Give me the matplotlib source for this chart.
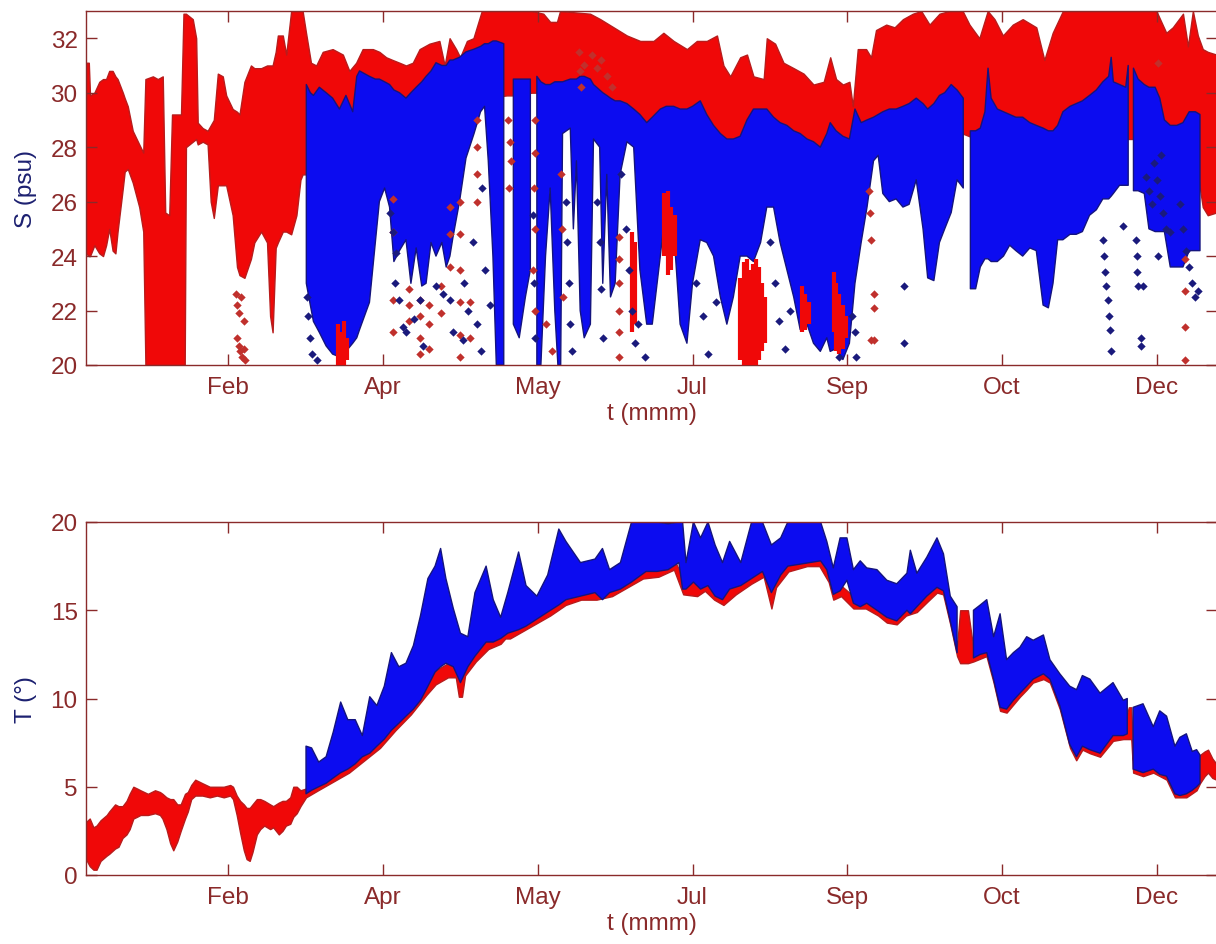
import numpy as np
import matplotlib.pyplot as plt

plt.rcParams['font.family'] = ['Liberation Sans', 'DejaVu Sans']

nan = np.nan

# x axis is day of year; month labels sit on a 50-day tick grid
month_ticks = [46, 96, 146, 196, 246, 296, 346]
month_labels = ['Feb', 'Apr', 'May', 'Jul', 'Sep', 'Oct', 'Dec']

# salinity, sensor A (red): day, band low, band high
sal_red = [
    (0.0, 24.1, 31.1), (0.9, 24.0, 31.1), (1.3, 24.0, 29.9), (2.7, 24.4, 30.0),
    (4.3, 24.1, 30.4), (5.5, 24.0, 30.5), (6.5, 24.4, 30.5), (7.5, 25.0, 30.8),
    (8.6, 24.2, 30.8), (9.5, 24.1, 30.6), (10.2, 24.9, 30.5), (11.9, 26.5, 30.0),
    (12.5, 27.1, 29.8), (13.5, 27.2, 29.5), (15.1, 26.7, 28.6), (17.2, 25.8, 28.1),
    (18.5, 24.9, 27.8), (19.2, 20.0, 30.5), (21.6, 20.0, 30.6), (23.2, 20.0, 30.5),
    (24.8, 20.0, 30.6), (25.6, 20.0, 25.6), (26.9, 20.0, 25.5), (27.8, 20.0, 29.2),
    (30.7, 20.0, 29.2), (31.5, 20.0, 32.9), (31.9, 20.0, 32.9), (32.3, 28.0, 32.9),
    (34.5, 28.2, 32.7), (35.6, 28.3, 32.0), (36.1, 28.1, 28.9), (37.7, 28.2, 28.7),
    (39.3, 28.1, 28.6), (40.3, 26.0, 28.8), (41.3, 25.4, 29.0), (42.6, 26.6, 30.7),
    (44.2, 26.6, 30.6), (45.3, 26.6, 29.9), (47.4, 25.5, 29.4), (48.8, 23.6, 29.3),
    (49.6, 23.3, 29.2), (51.2, 23.2, 30.4), (53.3, 23.9, 31.0), (54.4, 24.5, 30.9),
    (56.6, 24.9, 30.9), (58.5, 24.5, 31.0), (59.5, 21.8, 31.0), (60.3, 21.2, 31.0),
    (61.3, 24.3, 31.5), (62.0, 24.5, 32.1), (63.6, 24.9, 32.1), (64.7, 24.9, 31.4),
    (66.3, 24.8, 33.0), (68.0, 25.5, 33.0), (69.3, 26.8, 33.0), (70.0, 27.0, 33.0),
    (71.1, 27.0, 32.2), (72.7, 29.0, 31.1), (74.4, 29.0, 31.0), (76.5, 29.0, 31.5),
    (79.7, 29.0, 31.6), (83.0, 29.0, 31.4), (85.1, 29.0, 30.8), (87.3, 29.0, 31.1),
    (89.4, 29.5, 31.6), (92.7, 29.5, 31.6), (94.8, 29.5, 31.5), (97.0, 29.5, 31.3),
    (99.1, 29.5, 31.2), (101.3, 29.5, 31.1), (103.4, 29.5, 31.0), (105.6, 29.5, 31.1),
    (107.8, 29.8, 31.6), (111.0, 29.8, 31.8), (114.2, 29.8, 31.9), (115.9, 29.8, 31.0),
    (117.5, 29.8, 32.0), (119.6, 29.8, 31.6), (120.9, 29.8, 31.3), (123.1, 29.8, 31.9),
    (125.2, 29.8, 32.0), (127.9, 29.8, 33.0), (136.0, 29.9, 33.0), (138.0, 29.9, 33.0),
    (144.0, 30.0, 33.0), (147.8, 30.0, 32.9), (150.0, 30.0, 32.6), (152.2, 30.0, 32.6),
    (153.2, 30.0, 33.0), (162.9, 29.8, 32.9), (166.2, 29.5, 32.7), (170.5, 29.3, 32.4),
    (174.8, 29.0, 32.1), (179.1, 28.7, 31.9), (183.4, 28.7, 31.9), (186.6, 28.7, 32.2),
    (189.9, 28.7, 31.9), (194.2, 28.7, 31.6), (197.4, 28.7, 31.9), (200.6, 28.5, 31.9),
    (203.9, 28.3, 32.1), (206.0, 28.1, 31.0), (208.2, 28.1, 30.6), (211.4, 28.2, 31.3),
    (213.6, 28.5, 31.4), (215.7, 28.5, 30.6), (219.0, 28.5, 30.5), (220.0, 28.5, 32.0),
    (222.7, 28.5, 31.8), (225.4, 28.4, 31.1), (228.7, 28.3, 30.9), (231.9, 28.1, 30.7),
    (235.1, 27.9, 30.3), (238.4, 27.9, 30.4), (240.5, 28.2, 31.3), (242.4, 28.2, 30.5),
    (244.6, 28.1, 30.3), (246.7, 28.1, 30.4), (247.8, 28.2, 29.5), (249.4, 28.2, 31.6),
    (252.1, 28.4, 31.6), (253.7, 28.4, 31.3), (255.3, 28.5, 32.3), (258.6, 28.6, 32.5),
    (261.3, 28.6, 32.4), (264.0, 28.8, 32.7), (267.2, 28.8, 32.9), (269.9, 28.8, 33.0),
    (272.6, 28.8, 32.5), (275.8, 28.8, 32.9), (279.0, 28.8, 33.0), (283.3, 28.5, 33.0),
    (285.5, 28.4, 32.5), (288.7, 28.4, 32.0), (291.4, 28.4, 33.0), (293.6, 28.5, 32.7),
    (296.3, 28.5, 32.1), (299.5, 28.5, 32.5), (302.7, 28.4, 32.7), (307.1, 28.3, 32.4),
    (309.7, 28.3, 31.2), (312.4, 28.3, 32.2), (315.7, 28.3, 33.0), (345.9, 28.3, 33.0),
    (349.1, 28.3, 32.2), (351.2, 28.3, 32.4), (354.5, 28.5, 32.9), (356.1, 28.5, 31.7),
    (357.7, 28.5, 33.0), (359.3, 27.0, 32.1), (360.9, 25.8, 31.6), (362.5, 25.5, 31.5),
    (365.3, 25.6, 31.4),
]

# salinity, sensor B (blue): day, band low, band high (nan = no data)
sal_blue = [
    (71.2, 23.0, 30.3), (72.5, 22.2, 30.0), (73.5, 21.6, 29.9), (75.4, 21.2, 30.2),
    (77.6, 20.7, 30.0), (79.7, 20.4, 29.8), (81.9, 20.3, 29.4), (84.0, 20.5, 29.9),
    (86.2, 20.8, 29.3), (87.5, 21.0, 30.6), (88.4, 21.3, 30.8), (90.0, 21.8, 30.7),
    (91.6, 22.3, 30.6), (93.5, 24.5, 30.5), (94.8, 26.0, 30.5), (96.5, 26.5, 30.4),
    (98.1, 25.8, 30.3), (99.5, 23.8, 30.1), (101.3, 24.2, 30.0), (103.4, 24.6, 29.8),
    (105.0, 23.0, 30.0), (106.7, 24.3, 30.2), (108.5, 22.9, 30.4), (109.9, 23.0, 30.6),
    (111.5, 24.5, 30.8), (113.1, 24.0, 31.1), (115.0, 24.5, 31.0), (116.4, 23.6, 31.0),
    (117.6, 24.0, 31.2), (118.6, 24.7, 31.2), (120.7, 26.0, 31.3), (122.8, 27.6, 31.5),
    (125.4, 28.5, 31.6), (127.5, 29.3, 31.7), (128.8, 29.5, 31.8), (130.0, 27.5, 31.8),
    (131.5, 24.0, 31.9), (132.6, 20.0, 31.9), (135.0, 20.0, 31.8), (135.5, nan, nan),
    (138.1, 21.5, 30.5), (140.0, 21.0, 30.5), (142.0, 22.5, 30.5), (143.6, 23.5, 30.5),
    (144.2, nan, nan), (145.7, 20.0, 30.6), (147.0, 20.0, 30.4), (148.5, 24.0, 30.3),
    (150.0, 26.5, 30.3), (151.5, 22.0, 30.4), (152.5, 20.0, 30.4), (153.4, 20.0, 30.4),
    (154.0, 28.5, 30.4), (156.5, 28.7, 30.5), (157.5, 25.0, 30.5), (158.5, 27.5, 30.5),
    (159.7, 22.0, 30.6), (161.0, 21.0, 30.6), (163.0, 21.5, 30.5), (164.0, 28.3, 30.3),
    (166.0, 28.0, 30.1), (167.0, 23.0, 30.0), (168.3, 27.0, 29.9), (169.5, 22.5, 29.8),
    (171.0, 23.0, 29.7), (172.6, 27.0, 29.7), (174.8, 28.2, 29.6), (177.0, 28.0, 29.4),
    (179.0, 23.5, 29.2), (181.2, 21.5, 28.9), (183.0, 21.5, 29.1), (185.6, 24.0, 29.4),
    (187.5, 26.0, 29.5), (189.9, 25.0, 29.5), (192.0, 21.5, 29.4), (194.2, 20.8, 29.4),
    (196.0, 23.0, 29.5), (198.5, 24.6, 29.7), (200.6, 24.5, 29.2), (202.8, 24.0, 28.8),
    (205.0, 22.5, 28.5), (207.1, 21.5, 28.3), (209.2, 22.5, 28.3), (211.4, 24.0, 28.4),
    (213.6, 24.0, 29.0), (215.7, 23.8, 29.4), (218.0, 24.5, 29.4), (220.0, 25.8, 29.4),
    (222.2, 25.8, 29.1), (224.3, 24.5, 28.9), (226.5, 23.5, 28.8), (228.7, 22.5, 28.6),
    (230.8, 21.3, 28.5), (233.0, 21.5, 28.3), (235.1, 20.8, 28.2), (237.3, 20.5, 28.0),
    (239.4, 21.0, 28.5), (240.5, 20.5, 28.9), (242.4, 20.6, 28.6), (244.6, 20.2, 28.4),
    (246.7, 20.8, 28.3), (248.5, 23.0, 29.4), (250.5, 24.5, 28.9), (252.4, 25.8, 29.0),
    (254.5, 27.5, 29.1), (256.0, 27.7, 29.2), (257.5, 26.3, 29.3), (259.6, 26.0, 29.4),
    (261.8, 26.1, 29.4), (264.0, 25.8, 29.5), (266.0, 25.9, 29.6), (268.3, 26.8, 29.8),
    (270.5, 25.0, 29.6), (272.0, 23.2, 29.4), (274.0, 23.1, 29.6), (275.8, 24.5, 29.9),
    (277.5, 25.0, 30.0), (279.6, 25.6, 30.3), (281.5, 26.8, 30.1), (283.5, 26.5, 29.8),
    (284.2, nan, nan), (285.8, 22.8, 28.6), (287.5, 22.8, 28.6), (289.0, 23.6, 28.7),
    (290.5, 23.9, 29.3), (291.5, 23.9, 30.9), (292.5, 23.8, 29.8), (294.5, 23.8, 29.4),
    (296.5, 24.0, 29.3), (298.5, 24.4, 29.2), (300.5, 24.2, 29.1), (302.7, 24.0, 29.1),
    (305.0, 24.3, 28.9), (307.1, 24.2, 28.8), (309.3, 22.2, 28.7), (311.0, 22.1, 28.6),
    (312.5, 23.0, 28.6), (314.0, 24.6, 28.8), (315.7, 24.6, 29.3), (318.0, 24.8, 29.5),
    (320.0, 24.8, 29.6), (322.0, 24.9, 29.7), (324.3, 25.5, 29.9), (326.5, 25.7, 30.1),
    (328.6, 26.1, 30.4), (330.5, 26.1, 30.6), (331.3, 26.2, 31.3), (332.0, 26.3, 30.4),
    (334.0, 26.6, 30.3), (336.0, 26.6, 30.2), (336.8, 26.6, 31.0), (337.3, nan, nan),
    (338.5, 26.4, 30.9), (340.0, 26.4, 30.5), (342.0, 26.3, 30.3), (343.5, 25.0, 30.2),
    (345.5, 24.9, 30.2), (347.0, 24.9, 29.8), (348.5, 24.9, 29.0), (350.4, 23.6, 28.8),
    (352.5, 23.6, 28.8), (354.5, 23.6, 28.9), (356.5, 24.2, 29.3), (358.5, 24.2, 29.3),
    (360.0, 24.2, 29.2),
]

# low-salinity excursions of sensor A that show through the blue band
sal_red_streaks = [
    (81.5, 20.0, 21.5), (82.5, 20.0, 21.2), (83.5, 20.0, 21.6), (84.5, 20.2, 21.0),
    (176.5, 21.2, 24.9), (177.3, 21.5, 24.5),
    (186.8, 24.0, 26.3), (188.0, 23.3, 26.4), (189.2, 23.5, 25.8), (190.5, 24.0, 25.5),
    (211.5, 20.2, 23.2), (212.5, 20.0, 23.8), (213.5, 20.0, 23.9), (214.5, 20.0, 23.5),
    (215.5, 20.0, 23.7), (216.5, 20.0, 23.9), (217.5, 20.2, 23.6), (218.5, 20.5, 23.0),
    (219.5, 20.8, 22.5),
    (231.5, 21.2, 22.9), (232.5, 21.3, 22.6), (233.5, 21.5, 22.3), (241.6, 21.2, 23.4),
    (242.5, 20.5, 23.0), (243.5, 20.4, 22.6), (244.5, 20.6, 22.2), (245.5, 21.0, 21.8),
]

# isolated salinity samples, sensor A
sal_red_dots = [
    (48.6, 22.6), (48.9, 22.2), (49.3, 21.9), (50.2, 22.5), (50.9, 21.6), (48.8, 21.0),
    (49.3, 20.7), (49.8, 20.5), (50.3, 20.3), (51.0, 20.6), (51.5, 20.2),
    (99.3, 26.1), (99.3, 24.9), (99.3, 22.4), (99.3, 21.2),
    (104.5, 22.8), (104.5, 22.2), (104.5, 21.6), (107.8, 22.4), (107.8, 21.8),
    (107.8, 21.0), (107.8, 20.4), (111.0, 22.2), (111.0, 21.5), (111.0, 20.6),
    (114.8, 22.9), (114.8, 21.9), (117.5, 25.8), (117.5, 24.8), (117.5, 23.6),
    (120.9, 26.0), (120.9, 24.8), (120.9, 23.5), (120.9, 22.3), (120.9, 21.1),
    (120.9, 20.3), (124.1, 22.3), (124.1, 21.0), (126.3, 29.0), (126.3, 28.0),
    (126.3, 27.0), (126.3, 26.0),
    (136.5, 29.0), (137.0, 28.2), (137.2, 27.5), (136.8, 26.5), (145.0, 29.0),
    (145.0, 27.8), (144.8, 26.5), (145.2, 25.0), (144.6, 23.5), (145.0, 22.0),
    (148.5, 21.5), (150.5, 20.5), (153.6, 27.0), (153.8, 25.0), (154.2, 22.5),
    (159.3, 31.5), (159.5, 30.8), (160.0, 30.2), (161.0, 31.0), (163.5, 31.4),
    (165.0, 30.9), (166.5, 31.2), (168.5, 30.6), (170.0, 30.2),
    (172.3, 24.7), (172.3, 23.9), (172.3, 23.0), (172.3, 22.0), (172.3, 21.2),
    (172.3, 20.3),
    (253.2, 26.4), (253.5, 25.6), (253.8, 24.6), (254.5, 22.6), (254.8, 22.1),
    (253.8, 20.9), (254.5, 20.9), (346.4, 31.1),
    (355.0, 23.9), (355.0, 22.7), (355.0, 21.4), (355.0, 20.2),
]

# isolated salinity samples, sensor B
sal_blue_dots = [
    (71.5, 22.5), (71.8, 21.8), (72.5, 21.0), (73.0, 20.4), (74.5, 20.2),
    (98.1, 25.6), (99.1, 24.9), (100.2, 24.1), (99.7, 23.0), (101.3, 22.4),
    (102.4, 21.4), (103.4, 21.2), (106.1, 21.7), (107.8, 22.4), (108.8, 20.7),
    (113.1, 22.9), (115.3, 22.6), (117.5, 22.4), (118.5, 21.2), (121.8, 20.9),
    (122.0, 23.0), (123.5, 22.0), (125.0, 24.5), (126.5, 21.5), (128.0, 26.5),
    (129.0, 23.5), (130.5, 22.2), (127.5, 20.5),
    (144.5, 25.5), (144.8, 23.0), (145.0, 21.0),
    (155.0, 26.0), (155.5, 24.5), (156.0, 23.0), (156.5, 21.5), (157.0, 20.5),
    (165.0, 26.0), (166.0, 24.5), (166.5, 22.8), (167.0, 21.0),
    (173.0, 27.0), (174.5, 25.0), (175.5, 23.5), (176.5, 22.0), (177.5, 20.8),
    (178.5, 21.5), (180.5, 20.3),
    (197.0, 23.0), (199.5, 21.8), (201.0, 20.4), (203.5, 22.3),
    (221.0, 24.5), (222.5, 23.0), (224.0, 21.6), (226.0, 20.6), (227.5, 22.0),
    (243.5, 20.3), (247.5, 21.8), (248.5, 21.2), (248.9, 20.3),
    (264.5, 22.9), (264.5, 20.8),
    (328.6, 24.6), (328.9, 24.0), (329.2, 23.4), (329.5, 22.9), (330.2, 22.4),
    (330.5, 21.8), (330.8, 21.3), (331.2, 20.5), (335.1, 25.1),
    (339.4, 24.6), (339.6, 24.0), (339.8, 23.4), (340.0, 22.9), (341.5, 22.9),
    (341.0, 21.0), (341.0, 20.7),
    (342.6, 26.9), (343.5, 26.4), (344.5, 25.9), (345.0, 27.4), (346.0, 26.8),
    (347.0, 26.2), (348.0, 25.6), (349.0, 25.0), (347.5, 27.7), (346.4, 24.0),
    (350.2, 24.9), (353.4, 25.9), (354.5, 25.0), (355.5, 24.2), (356.5, 23.6),
    (357.5, 23.0), (358.3, 22.5), (359.3, 22.7),
]

# temperature, sensor A (red): day, band low, band high
temp_red = [
    (0.0, 0.9, 3.0), (1.2, 0.5, 3.2), (2.4, 0.3, 2.7), (3.4, 0.3, 2.8),
    (4.7, 0.8, 3.1), (6.7, 1.1, 3.4), (7.5, 1.2, 3.6), (9.4, 1.5, 4.0),
    (10.5, 1.6, 3.9), (11.8, 2.1, 3.9), (13.1, 2.3, 4.2), (14.1, 2.6, 4.6),
    (15.3, 3.2, 5.0), (16.5, 3.3, 4.9), (17.6, 3.4, 4.8), (20.0, 3.4, 4.6),
    (22.3, 3.5, 4.8), (23.9, 3.4, 4.7), (24.7, 3.2, 4.6), (26.0, 2.6, 4.4),
    (27.2, 1.8, 4.3), (28.2, 1.4, 4.3), (29.5, 1.9, 4.0), (30.6, 2.5, 4.0),
    (32.0, 3.2, 4.6), (32.9, 3.6, 4.7), (34.0, 4.3, 5.1), (35.3, 4.5, 5.4),
    (37.6, 4.5, 5.2), (40.0, 4.4, 5.0), (42.3, 4.5, 5.0), (44.5, 4.4, 5.0),
    (46.6, 4.5, 5.1), (47.5, 4.3, 5.0), (48.7, 3.4, 4.5), (49.8, 2.4, 4.2),
    (51.0, 1.4, 4.0), (51.9, 0.9, 3.8), (52.9, 0.8, 3.8), (53.8, 1.3, 4.0),
    (55.2, 2.3, 4.3), (56.3, 2.6, 4.3), (57.6, 2.8, 4.2), (59.5, 2.6, 4.0),
    (60.5, 2.7, 3.9), (62.3, 2.3, 4.1), (63.5, 2.5, 4.2), (64.6, 2.8, 4.2),
    (66.0, 2.9, 4.4), (67.0, 3.3, 5.0), (68.1, 3.5, 5.0), (69.3, 3.9, 4.8),
    (71.1, 4.4, 4.9), (75.0, 4.8, 5.6), (80.0, 5.3, 6.0), (85.0, 5.8, 6.6),
    (90.0, 6.5, 7.3), (95.0, 7.2, 8.0), (100.0, 8.2, 9.0), (105.0, 9.1, 9.8),
    (110.0, 10.2, 11.0), (113.0, 10.8, 11.6), (117.0, 11.2, 12.0), (119.5, 11.2, 12.0),
    (120.5, 10.1, 11.5), (121.5, 10.1, 11.5), (122.5, 11.3, 12.0), (126.0, 12.1, 12.8),
    (130.0, 12.8, 13.6), (134.0, 13.1, 13.8), (135.5, 13.4, 14.0), (137.0, 13.4, 14.0),
    (140.0, 13.7, 14.4), (143.0, 14.0, 14.6), (147.0, 14.4, 15.0), (150.0, 14.7, 15.3),
    (155.0, 15.3, 16.0), (160.0, 15.6, 16.2), (165.0, 15.6, 16.3), (170.0, 15.8, 16.4),
    (175.0, 16.3, 17.0), (180.0, 16.8, 17.5), (185.0, 16.9, 17.6), (190.0, 17.3, 17.9),
    (193.0, 15.9, 16.8), (197.5, 15.8, 16.8), (200.0, 16.1, 16.8), (203.0, 15.6, 16.2),
    (206.0, 15.3, 16.0), (210.0, 15.9, 16.5), (215.0, 16.5, 17.2), (219.0, 16.9, 17.5),
    (221.5, 15.1, 16.3), (223.0, 16.3, 17.2), (227.0, 17.2, 17.9), (233.0, 17.5, 18.1),
    (237.0, 17.5, 18.1), (240.0, 16.6, 17.4), (241.5, 15.6, 16.3), (244.0, 15.8, 16.4),
    (248.0, 15.1, 15.8), (252.0, 15.1, 15.7), (256.0, 14.7, 15.3), (258.8, 14.3, 14.9),
    (262.0, 14.2, 14.7), (265.0, 14.7, 15.3), (268.5, 14.9, 15.5), (272.0, 15.5, 16.1),
    (275.0, 16.0, 16.6), (277.0, 15.9, 16.4), (279.3, 14.2, 14.8), (281.5, 12.4, 13.0),
    (282.5, 12.0, 15.0), (285.0, 12.0, 15.0), (286.8, 12.1, 12.8), (291.0, 12.4, 13.0),
    (293.3, 10.9, 11.5), (295.4, 9.3, 10.0), (297.5, 9.2, 9.8), (301.8, 10.1, 10.7),
    (304.0, 10.5, 11.1), (306.0, 10.9, 11.5), (309.4, 11.1, 11.7), (311.5, 10.9, 11.4),
    (314.7, 9.4, 10.0), (318.0, 7.2, 7.8), (320.0, 6.5, 7.2), (322.0, 7.1, 7.6),
    (324.4, 6.9, 7.5), (327.7, 6.7, 7.3), (331.9, 7.6, 8.2), (335.2, 7.7, 8.3),
    (337.0, 7.7, 9.5), (337.8, 7.7, 9.5), (338.4, 5.8, 6.5), (341.6, 5.6, 6.3),
    (344.9, 5.8, 6.4), (349.2, 5.4, 6.0), (351.9, 4.4, 5.0), (355.6, 4.4, 5.0),
    (358.9, 4.8, 5.5), (360.0, 5.2, 6.8), (361.5, 5.6, 7.0), (362.6, 5.8, 7.1),
    (364.0, 5.5, 6.6), (365.3, 5.4, 6.3),
]

# temperature, sensor B (blue): day, band low, band high (nan = no data)
temp_blue = [
    (71.1, 4.6, 7.3), (72.9, 4.8, 7.2), (75.2, 5.0, 6.4), (77.6, 5.2, 6.7),
    (79.9, 5.5, 8.1), (82.3, 5.8, 9.8), (84.6, 6.0, 8.8), (87.0, 6.3, 8.8),
    (89.3, 6.7, 7.9), (91.7, 6.9, 10.1), (94.0, 7.3, 9.6), (96.4, 7.7, 10.7),
    (98.7, 8.2, 12.6), (101.1, 8.6, 11.8), (103.4, 9.0, 12.0), (105.8, 9.4, 13.0),
    (108.1, 9.9, 14.7), (110.5, 10.7, 16.8), (112.8, 11.5, 17.5), (114.6, 11.8, 18.5),
    (116.3, 12.0, 16.8), (118.7, 11.8, 15.1), (121.0, 10.9, 13.7), (123.4, 11.8, 13.5),
    (125.7, 12.4, 16.0), (129.3, 13.2, 17.5), (131.6, 13.2, 15.6), (134.0, 13.4, 14.6),
    (136.3, 13.7, 16.0), (139.8, 13.9, 18.3), (142.2, 14.1, 16.4), (145.7, 14.5, 15.8),
    (149.2, 14.9, 17.0), (152.8, 15.3, 19.6), (155.1, 15.6, 18.9), (159.8, 15.8, 17.7),
    (164.5, 16.0, 17.9), (166.9, 15.6, 18.5), (169.2, 16.0, 17.3), (172.7, 16.2, 17.7),
    (176.3, 16.6, 20.0), (181.0, 17.2, 20.0), (184.5, 17.2, 20.0), (188.1, 17.3, 19.9),
    (191.6, 17.7, 20.0), (192.8, 16.2, 20.0), (193.9, 16.2, 17.7), (196.3, 16.6, 20.0),
    (198.6, 16.2, 19.1), (201.0, 16.4, 20.0), (203.3, 15.8, 18.7), (205.7, 15.6, 17.7),
    (208.0, 16.2, 18.9), (211.6, 16.4, 17.7), (215.1, 16.8, 20.0), (218.6, 17.2, 20.0),
    (221.5, 16.0, 18.7), (224.5, 17.0, 19.1), (226.8, 17.5, 20.0), (237.4, 17.8, 20.0),
    (239.4, 17.3, 18.9), (241.5, 15.9, 17.4), (243.7, 16.1, 19.1), (245.9, 16.7, 19.1),
    (248.0, 15.4, 17.3), (250.2, 15.2, 17.8), (252.3, 15.4, 17.4), (255.6, 15.0, 17.3),
    (258.8, 14.6, 16.7), (262.0, 14.4, 16.5), (265.3, 15.0, 17.1), (266.4, 14.8, 18.4),
    (268.5, 15.2, 17.1), (271.7, 15.8, 18.0), (275.0, 16.3, 19.1), (277.1, 16.1, 18.2),
    (279.3, 14.4, 15.8), (281.5, 12.6, 15.2), (282.3, nan, nan), (286.8, 12.3, 15.0),
    (289.0, 12.5, 15.3), (291.1, 12.6, 15.6), (293.3, 11.1, 13.5), (295.4, 9.5, 14.8),
    (297.5, 9.4, 12.2), (299.7, 9.9, 12.6), (301.8, 10.3, 12.9), (304.0, 10.7, 13.5),
    (306.1, 11.1, 13.3), (309.4, 11.4, 13.6), (311.5, 11.1, 12.2), (314.7, 9.6, 11.4),
    (317.9, 7.4, 10.7), (320.1, 6.7, 10.5), (322.0, 7.3, 11.3), (324.4, 7.1, 11.1),
    (327.7, 6.9, 10.3), (331.9, 7.9, 10.9), (335.2, 7.9, 9.9), (336.5, 8.0, 10.0),
    (337.0, nan, nan), (338.4, 6.0, 9.5), (341.6, 5.8, 9.7), (344.9, 6.0, 8.4),
    (347.0, 5.7, 9.3), (349.2, 5.6, 9.0), (351.9, 4.6, 7.3), (353.5, 4.5, 7.8),
    (355.6, 4.6, 8.0), (357.5, 4.8, 7.0), (358.9, 5.0, 7.1), (360.0, 5.2, 6.8),
]

RED = '#f00808'
RED_EDGE = '#b81c1c'
BLUE = '#0c0cf0'
BLUE_EDGE = '#14147e'
AXIS_COLOR = '#8a2a2a'
LABEL_BLUE = '#1c2070'
FS = 17.5


def draw_band(ax, rows, face, edge, z):
    d, lo, hi = np.array(rows, dtype=float).T
    ax.fill_between(d, lo, hi, facecolor=face, edgecolor=edge,
                    linewidth=1.0, zorder=z)


def draw_dots(ax, pts, color, z, size=18):
    d, v = np.array(pts, dtype=float).T
    ax.scatter(d, v, marker='D', s=size, color=color, linewidths=0, zorder=z)


def style_axes(ax, ylim, yticks, ylabel):
    ax.set_xlim(0, 365.5)
    ax.set_ylim(*ylim)
    ax.set_yticks(yticks)
    ax.set_xticks(month_ticks)
    ax.set_xticklabels(month_labels)
    for sp in ax.spines.values():
        sp.set_color(AXIS_COLOR)
        sp.set_linewidth(1.0)
    ax.tick_params(direction='in', length=8, width=1.0, top=True, right=True,
                   colors=AXIS_COLOR, labelsize=FS)
    ax.tick_params(axis='x', pad=8)
    ax.tick_params(axis='y', pad=6)
    ax.set_xlabel('t (mmm)', color=AXIS_COLOR, fontsize=FS, labelpad=3)
    ax.set_ylabel(ylabel, color=LABEL_BLUE, fontsize=FS, labelpad=10)


fig = plt.figure(figsize=(12.16, 9.45), dpi=100)
ax_s = fig.add_axes([86 / 1216, 1 - 366 / 945, 1131 / 1216, 354 / 945])
ax_t = fig.add_axes([86 / 1216, 1 - 876 / 945, 1131 / 1216, 353 / 945])

# salinity panel
draw_band(ax_s, sal_red, RED, RED_EDGE, 1)
draw_band(ax_s, sal_blue, BLUE, BLUE_EDGE, 2)
sd, slo, shi = np.array(sal_red_streaks, dtype=float).T
ax_s.vlines(sd, slo, shi, color=RED, linewidth=3.0, zorder=3)
draw_dots(ax_s, sal_red_dots, '#c0302c', 4)
draw_dots(ax_s, sal_blue_dots, '#1a1a7c', 4)
style_axes(ax_s, (20, 33), [20, 22, 24, 26, 28, 30, 32], 'S (psu)')

# temperature panel
draw_band(ax_t, temp_red, RED, RED_EDGE, 1)
draw_band(ax_t, temp_blue, BLUE, BLUE_EDGE, 2)
style_axes(ax_t, (0, 20), [0, 5, 10, 15, 20], 'T (°)')

fig.savefig('out.png', dpi=100)
